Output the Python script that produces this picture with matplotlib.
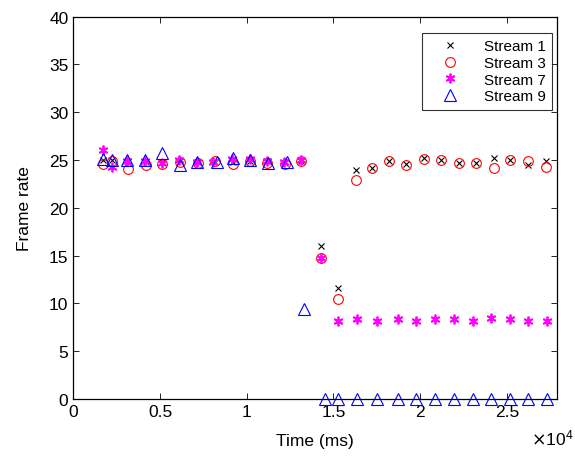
import matplotlib
matplotlib.use('Agg')
import matplotlib.pyplot as plt
from matplotlib.ticker import FuncFormatter

plt.rcParams['font.family'] = ['Liberation Sans', 'DejaVu Sans']

# time stamps (ms) and frame rates
t_13 = [1700, 2220, 3170, 4200, 5100, 6160, 7170, 8180, 9230, 10200, 11190, 12220, 13120,
        14280, 15290, 16310, 17250, 18180, 19200, 20200, 21220, 22220, 23240, 24240, 25200, 26200, 27260]
s1 = [25.0, 25.0, 24.9, 24.8, 24.8, 24.9, 24.8, 24.8, 24.8, 24.9, 24.9, 24.7, 24.9,
      16.0, 11.6, 24.0, 24.2, 24.9, 24.6, 25.2, 25.0, 24.65, 24.65, 25.2, 25.0, 24.5, 24.9]
s3 = [24.6, 24.9, 24.1, 24.5, 24.6, 24.8, 24.7, 24.9, 24.6, 24.9, 24.7, 24.6, 24.9,
      14.8, 10.5, 22.9, 24.2, 24.9, 24.5, 25.1, 25.0, 24.65, 24.65, 24.2, 24.95, 24.9, 24.3]

t_7 = [1700, 2220, 3080, 4140, 5100, 6110, 7120, 8080, 9140, 10200, 11190, 12150, 13120,
       14280, 15260, 16350, 17510, 18700, 19760, 20830, 21930, 23020, 24090, 25160, 26240, 27320]
s7 = [26.0, 24.3, 24.9, 24.9, 24.7, 25.0, 24.8, 24.8, 25.1, 25.1, 24.9, 24.8, 25.0,
      14.7, 8.2, 8.4, 8.2, 8.4, 8.2, 8.4, 8.4, 8.2, 8.45, 8.4, 8.2, 8.2]

t_9 = [1700, 2220, 3080, 4140, 5100, 6160, 7120, 8280, 9230, 10200, 11250, 12310, 13310,
       14520, 15260, 16350, 17510, 18700, 19760, 20830, 21930, 23020, 24090, 25160, 26240, 27320]
s9 = [25.1, 25.0, 25.0, 25.0, 25.7, 24.5, 24.8, 24.8, 25.2, 25.0, 24.7, 24.8, 9.4,
      0, 0, 0, 0, 0, 0, 0, 0, 0, 0, 0, 0, 0]

fig = plt.figure(figsize=(5.75, 4.6), dpi=100)
ax = fig.add_axes([0.1275, 0.1304, 0.8415, 0.8313])

ax.plot(t_13, s1, linestyle='none', marker='x', color='k', markersize=4, markeredgewidth=0.8,
        label='Stream 1', clip_on=False)
ax.plot(t_13, s3, linestyle='none', marker='o', color='#FF0000', markerfacecolor='none', markersize=7,
        markeredgewidth=0.8, label='Stream 3', clip_on=False)
ax.plot(t_7, s7, linestyle='none', marker=(6, 2, 0), color='#FF00FF', markersize=7, markeredgewidth=1.3,
        label='Stream 7', clip_on=False)
ax.plot(t_9, s9, linestyle='none', marker='^', color='#0000FF', markerfacecolor='none', markersize=8,
        markeredgewidth=0.8, label='Stream 9', clip_on=False)

ax.set_xlim(0, 27900)
ax.set_ylim(0, 40)
ax.set_xticks([0, 5000, 10000, 15000, 20000, 25000])
ax.set_yticks(range(0, 41, 5))
ax.xaxis.set_major_formatter(FuncFormatter(lambda v, p: '{:g}'.format(v / 1e4)))
ax.tick_params(direction='in', top=True, right=True, labelsize=12.5, length=4, width=0.6)
for sp in ax.spines.values():
    sp.set_linewidth(0.9)

ax.set_xlabel('Time (ms)', fontsize=12.5, labelpad=10)
ax.set_ylabel('Frame rate', fontsize=12.5, labelpad=12)
fig.text(0.997, 0.025, r'$\times\mathregular{10^{4}}$', fontsize=12.5, ha='right', va='bottom')

leg = ax.legend(loc='upper right', bbox_to_anchor=(0.99, 0.957), fontsize=11, frameon=True, fancybox=False,
                edgecolor='k', handletextpad=0.8, borderpad=0.4, labelspacing=0.18, handlelength=2.9,
                borderaxespad=0)
leg.get_frame().set_linewidth(0.8)

plt.savefig('out.png', dpi=100)
plt.close()
